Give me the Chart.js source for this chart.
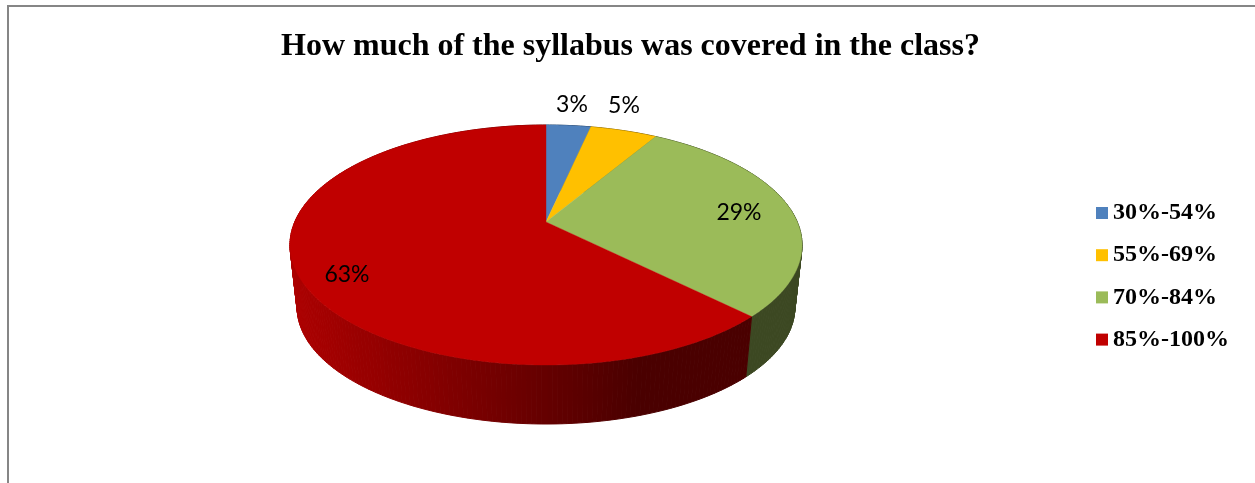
<!DOCTYPE html>
<html>
<head>
<meta charset="utf-8">
<title>Syllabus covered</title>
<script src="https://cdn.jsdelivr.net/npm/chart.js@4"></script>
<style>
    html, body { margin: 0; height: 100%; background: #fff; overflow: hidden; }
    #frame { position: absolute; left: 7px; top: 5px; right: 0; bottom: 0; border-left: 2px solid #868686; border-top: 2px solid #868686; }
    #pie { position: absolute; left: 0; top: 0; }
</style>
</head>
<body>
<div id="frame"></div>
<canvas id="pie" width="1255" height="483"></canvas>
<script>
// values, labels show them rounded
const categories = ['30%-54%', '55%-69%', '70%-84%', '85%-100%'];
const coverage = [3.4, 5.1, 29, 62.5];
const sliceColors = ['#4f81bd', '#ffc000', '#9bbb59', '#c00000'];
const chartTitle = 'How much of the syllabus was covered in the class?';

// the tilted view: hub, radii and perspective of the top face, then the bottom face
const view = { x: 546, y: 222, rx: 251.3, ry: 115.6, p: 0.1917, bottomY: 285, bottomScale: 0.972 };
const labelOffsets = [[26, -117], [78, -116], [193, -9], [-199, 53]];
const legendBox = { x: 1096, y: 213, size: 12, gap: 5, step: 42.2 };

function rim(angle, hubY, scale) {
    const u = Math.cos(angle), v = Math.sin(angle), d = 1 - view.p * v;
    return { x: view.x + scale * view.rx * u / d, y: hubY + scale * view.ry * v / d };
}

// wall gets darker from left to right, flat past x=650
function shade(hex, x) {
    let f = x < 430 ? 0.9 - 0.2 * (x - 290) / 140 : 0.7 - 0.33 * (x - 430) / 220;
    f = Math.max(0.39, Math.min(0.9, f));
    const n = parseInt(hex.slice(1), 16);
    return `rgb(${(n >> 16) * f | 0},${((n >> 8) & 255) * f | 0},${(n & 255) * f | 0})`;
}

// top face of a slice, same angles the controller worked out
Chart.ArcElement.prototype.draw = function (ctx) {
    const { startAngle, endAngle } = this;
    ctx.save();
    ctx.fillStyle = ctx.strokeStyle = this.options.backgroundColor;
    ctx.lineWidth = 0.4;
    ctx.beginPath();
    ctx.moveTo(view.x, view.y);
    const steps = Math.ceil((endAngle - startAngle) * 90);
    for (let i = 0; i <= steps; i++) {
        const p = rim(startAngle + (endAngle - startAngle) * i / steps, view.y, 1);
        ctx.lineTo(p.x, p.y);
    }
    ctx.closePath();
    ctx.fill();
    ctx.stroke();
    ctx.restore();
};

const sideWall = {
    id: 'sideWall',
    beforeDatasetsDraw(chart) {
        const ctx = chart.ctx;
        const strips = [];
        chart.getDatasetMeta(0).data.forEach((arc, i) => {
            const steps = Math.ceil((arc.endAngle - arc.startAngle) * 60);
            for (let s = 0; s < steps; s++) {
                strips.push({
                    a: arc.startAngle + (arc.endAngle - arc.startAngle) * s / steps,
                    b: arc.startAngle + (arc.endAngle - arc.startAngle) * (s + 1) / steps,
                    color: sliceColors[i]
                });
            }
        });
        strips.sort((m, n) => Math.sin(m.a) - Math.sin(n.a));
        strips.forEach(st => {
            const t1 = rim(st.a, view.y, 1), t2 = rim(st.b, view.y, 1);
            const b1 = rim(st.a, view.bottomY, view.bottomScale), b2 = rim(st.b, view.bottomY, view.bottomScale);
            ctx.fillStyle = ctx.strokeStyle = shade(st.color, (t1.x + t2.x) / 2);
            ctx.lineWidth = 1;
            ctx.beginPath();
            ctx.moveTo(t1.x, t1.y);
            ctx.lineTo(t2.x, t2.y);
            ctx.lineTo(b2.x, b2.y);
            ctx.lineTo(b1.x, b1.y);
            ctx.closePath();
            ctx.fill();
            ctx.stroke();
        });
    },
    afterDatasetsDraw(chart) {
        const ctx = chart.ctx;
        ctx.save();
        ctx.textBaseline = 'middle';
        ctx.fillStyle = '#000';
        ctx.textAlign = 'center';
        ctx.font = '23px Lato';
        coverage.forEach((v, i) => {
            ctx.fillText(Math.round(v) + '%', view.x + labelOffsets[i][0], view.y + labelOffsets[i][1]);
        });
        ctx.textAlign = 'left';
        ctx.font = 'bold 24px "Liberation Serif"';
        categories.forEach((name, i) => {
            const y = legendBox.y + legendBox.step * i;
            ctx.fillStyle = sliceColors[i];
            ctx.fillRect(legendBox.x, y - legendBox.size / 2, legendBox.size, legendBox.size);
            ctx.fillStyle = '#000';
            ctx.fillText(name, legendBox.x + legendBox.size + legendBox.gap, y);
        });
        ctx.restore();
    }
};

new Chart(document.getElementById('pie'), {
    type: 'pie',
    data: {
        labels: categories,
        datasets: [{ data: coverage, backgroundColor: sliceColors, borderWidth: 0 }]
    },
    options: {
        responsive: false,
        animation: false,
        layout: { padding: { left: 6, top: 0 } },
        plugins: {
            legend: { display: false },
            tooltip: { enabled: false },
            title: {
                display: true,
                text: chartTitle,
                color: '#000',
                font: { family: '"Liberation Serif"', size: 32, weight: 'bold' },
                padding: { top: 28, bottom: 10 }
            }
        }
    },
    plugins: [sideWall]
});
</script>
</body>
</html>
